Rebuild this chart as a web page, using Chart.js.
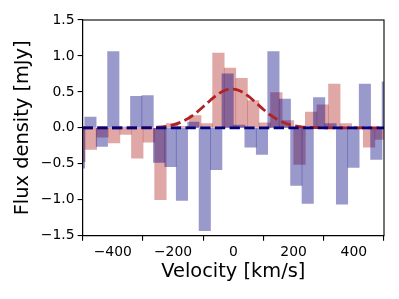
<!DOCTYPE html>
<html>
<head>
<meta charset="utf-8">
<script src="https://cdn.jsdelivr.net/npm/chart.js@4.4.1/dist/chart.umd.min.js"></script>
<style>
  html, body { margin: 0; padding: 0; background: #fff; }
  #wrap { width: 399px; height: 299px; }
</style>
</head>
<body>
<div id="wrap"><canvas id="myChart" width="399" height="299"></canvas></div>
<script>
// spettro blu: centri dei canali [km/s] e flusso [mJy]
const velBlu = [-511.9, -474.0, -436.0, -398.1, -360.1, -322.2, -284.3, -246.3, -208.4, -170.4,
                -132.5, -94.6, -56.6, -18.7, 19.3, 57.2, 95.1, 133.1, 171.0, 209.0,
                246.9, 284.8, 322.8, 360.7, 398.7, 436.6, 474.5, 512.5];
const fluxBlu = [-0.56, 0.15, -0.26, 1.06, 0.01, 0.44, 0.45, -0.48, -0.54, -1.01,
                 0.08, -1.43, -0.58, 0.75, 0.04, -0.27, -0.37, 1.06, 0.40, -0.80,
                 -1.05, 0.42, 0.06, -1.06, -0.55, 0.61, -0.44, 0.64];

// spettro rosso
const velRosso = [-510.8, -472.4, -433.9, -395.5, -357.0, -318.6, -280.1, -241.7, -203.2, -164.8,
                  -126.3, -87.9, -49.4, -11.0, 27.5, 65.9, 104.4, 142.8, 181.3, 219.7,
                  258.2, 296.6, 335.1, 373.5, 412.0, 450.4, 488.9];
const fluxRosso = [-0.47, -0.30, -0.13, -0.21, -0.09, -0.42, -0.20, -1.00, 0.06, 0.02,
                   0.17, 0.06, 1.04, 0.83, 0.69, 0.38, 0.07, 0.49, 0.10, -0.51,
                   0.22, 0.32, 0.61, 0.06, 0.01, -0.27, -0.16];

// fit gaussiano
const velFit = [-500, -475, -450, -425, -400, -375, -350, -325, -300, -275,
                -250, -225, -200, -175, -150, -125, -100, -75, -50, -25,
                0, 25, 50, 75, 100, 125, 150, 175, 200, 225,
                250, 275, 300, 325, 350, 375, 400, 425, 450, 475, 500];
const fluxFit = [0, 0, 0, 0, 0, 0, 0, 0.001, 0.002, 0.004,
                 0.009, 0.020, 0.041, 0.077, 0.130, 0.204, 0.293, 0.388, 0.471, 0.526,
                 0.539, 0.508, 0.440, 0.350, 0.256, 0.172, 0.106, 0.060, 0.032, 0.015,
                 0.007, 0.003, 0.001, 0, 0, 0, 0, 0, 0, 0, 0];

// linea dello zero
const velZero = [-500, 500];
const fluxZero = [0, 0];

const xTicks = [-400, -200, 0, 200, 400];
const yTicks = [-1.5, -1.0, -0.5, 0, 0.5, 1.0, 1.5];

function punti(xs, ys) {
    return xs.map(function(v, i) {
        return { x: v, y: ys[i] };
    });
}

function meno(v, dec) {
    const s = dec ? Math.abs(v).toFixed(dec) : String(Math.abs(v));
    return (v < 0 ? '\u2212' : '') + s;
}

const cornice = {
    id: 'cornice',
    afterDatasetsDraw(chart) {
        const { ctx, chartArea: a } = chart;
        ctx.save();
        ctx.strokeStyle = '#000';
        ctx.lineWidth = 1.1;
        ctx.strokeRect(a.left, a.top, a.right - a.left, a.bottom - a.top);
        ctx.restore();
    }
};

const fontTick = { family: 'DejaVu Sans', size: 13.9 };
const fontTitolo = { family: 'DejaVu Sans', size: 19.4 };

const ctx = document.getElementById('myChart');

new Chart(ctx, {
    type: 'bar',
    data: {
        datasets: [
            {
                type: 'line',
                data: punti(velZero, fluxZero),
                borderColor: 'rgb(0, 0, 128)',
                borderWidth: 2.8,
                borderDash: [10.3, 4.4],
                pointRadius: 0,
                xAxisID: 'x',
                order: 0
            },
            {
                type: 'line',
                data: punti(velFit, fluxFit),
                borderColor: 'rgb(178, 34, 34)',
                borderWidth: 2.8,
                borderDash: [10.3, 4.4],
                pointRadius: 0,
                cubicInterpolationMode: 'monotone',
                xAxisID: 'x',
                order: 1
            },
            {
                data: punti(velBlu, fluxBlu),
                backgroundColor: 'rgba(0, 0, 128, 0.4)',
                borderWidth: 0,
                barPercentage: 1,
                categoryPercentage: 1,
                grouped: false,
                xAxisID: 'x',
                order: 2
            },
            {
                data: punti(velRosso, fluxRosso),
                backgroundColor: 'rgba(178, 34, 34, 0.4)',
                borderWidth: 0,
                barPercentage: 1,
                categoryPercentage: 1,
                grouped: false,
                xAxisID: 'x2',
                order: 3
            }
        ]
    },
    options: {
        responsive: false,
        animation: false,
        devicePixelRatio: 1,
        layout: { padding: { top: 20, right: 15, left: 0, bottom: 0 } },
        plugins: {
            legend: { display: false },
            tooltip: { enabled: false }
        },
        scales: {
            x: {
                type: 'linear',
                position: 'bottom',
                min: -500,
                max: 500,
                offset: false,
                afterBuildTicks: function(s) { s.ticks = xTicks.map(v => ({ value: v })); },
                afterFit: function(s) { s.height = 63.3; },
                grid: { display: true, drawOnChartArea: false, drawTicks: true, tickLength: 5, color: '#000', lineWidth: 1.1 },
                border: { display: true, color: '#000', width: 1.1 },
                ticks: {
                    color: '#000',
                    font: fontTick,
                    padding: 3,
                    maxRotation: 0,
                    callback: function(v) { return meno(v, 0); }
                },
                title: {
                    display: true,
                    text: 'Velocity [km/s]',
                    color: '#000',
                    font: fontTitolo,
                    padding: { top: 0, bottom: 15.4 }
                }
            },
            x2: {
                type: 'linear',
                position: 'bottom',
                display: false,
                min: -500,
                max: 500,
                offset: false,
                afterBuildTicks: function(s) { s.ticks = xTicks.map(v => ({ value: v })); }
            },
            y: {
                type: 'linear',
                min: -1.5,
                max: 1.5,
                afterBuildTicks: function(s) { s.ticks = yTicks.map(v => ({ value: v })); },
                afterFit: function(s) { s.width = 82.6; },
                grid: { display: true, drawOnChartArea: false, drawTicks: true, tickLength: 5, color: '#000', lineWidth: 1.1 },
                border: { display: true, color: '#000', width: 1.1 },
                ticks: {
                    color: '#000',
                    font: fontTick,
                    padding: 3,
                    callback: function(v) { return meno(v, 1); }
                },
                title: {
                    display: true,
                    text: 'Flux density [mJy]',
                    color: '#000',
                    font: fontTitolo,
                    padding: { top: 11, bottom: 0 }
                }
            }
        }
    },
    plugins: [cornice]
});
</script>
</body>
</html>
